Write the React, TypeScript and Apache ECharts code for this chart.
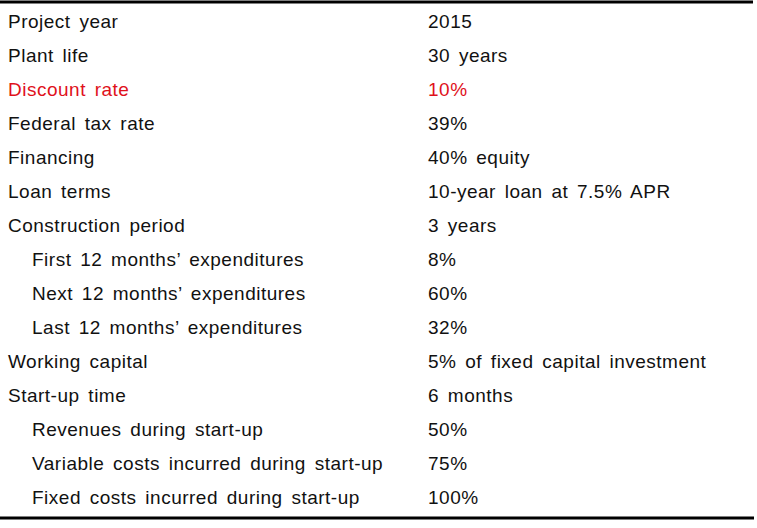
import React, { useEffect, useRef } from "react";
import * as echarts from "echarts";

const parameters = [
  "Project year",
  "Plant life",
  "Discount rate",
  "Federal tax rate",
  "Financing",
  "Loan terms",
  "Construction period",
  "First 12 months\u2019 expenditures",
  "Next 12 months\u2019 expenditures",
  "Last 12 months\u2019 expenditures",
  "Working capital",
  "Start-up time",
  "Revenues during start-up",
  "Variable costs incurred during start-up",
  "Fixed costs incurred during start-up",
];

const values = [
  "2015",
  "30 years",
  "10%",
  "39%",
  "40% equity",
  "10-year loan at 7.5% APR",
  "3 years",
  "8%",
  "60%",
  "32%",
  "5% of fixed capital investment",
  "6 months",
  "50%",
  "75%",
  "100%",
];

const indented = [false, false, false, false, false, false, false, true, true, true, false, false, true, true, true];
const highlighted = [false, false, true, false, false, false, false, false, false, false, false, false, false, false, false];

export default function App() {
  const ref = useRef<HTMLDivElement>(null);
  useEffect(() => {
    if (!ref.current) return;
    const chart = echarts.init(ref.current, null, { renderer: "svg" });
    const font = "Liberation Sans, Arial, sans-serif";
    const rowTop = 21;
    const rowStep = 34;
    const elements: any[] = [];
    parameters.forEach((p, i) => {
      const y = rowTop + i * rowStep;
      const color = highlighted[i] ? "#e0111b" : "#111111";
      elements.push({
        type: "text",
        x: indented[i] ? 32 : 8,
        y,
        style: {
          text: p,
          fill: color,
          font: `19px ${font}`,
          textVerticalAlign: "middle",
          textAlign: "left",
        },
      });
      elements.push({
        type: "text",
        x: 428,
        y,
        style: {
          text: values[i],
          fill: color,
          font: `19px ${font}`,
          textVerticalAlign: "middle",
          textAlign: "left",
        },
      });
    });
    elements.push({
      type: "line",
      shape: { x1: 0, y1: 2, x2: 753, y2: 2 },
      style: { stroke: "#000", lineWidth: 3 },
    });
    elements.push({
      type: "line",
      shape: { x1: 0, y1: 518, x2: 754, y2: 518 },
      style: { stroke: "#000", lineWidth: 3 },
    });
    chart.setOption({
      animation: false,
      backgroundColor: "#ffffff",
      graphic: { elements },
    });
    return () => chart.dispose();
  }, []);
  return (
    <div
      ref={ref}
      style={{
        position: "fixed",
        left: 0,
        top: 0,
        width: 757,
        height: 528,
        letterSpacing: "0.5px",
        wordSpacing: "3px",
      }}
    />
  );
}
